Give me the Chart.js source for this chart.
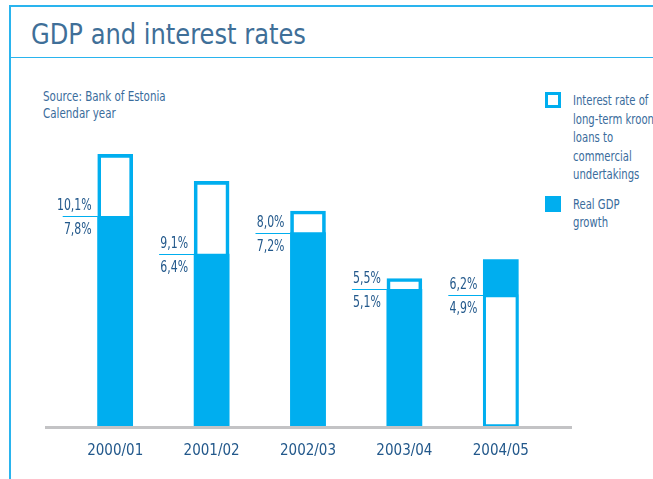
<!DOCTYPE html>
<html>
<head>
<meta charset="utf-8">
<script src="https://cdn.jsdelivr.net/npm/chart.js@4"></script>
<style>
  html, body { margin: 0; padding: 0; background: #fff; }
  #wrap { position: relative; width: 653px; height: 479px; overflow: hidden; }
  #frame { position: absolute; left: 9px; top: 5px; width: 700px; height: 500px;
           border-left: 2px solid #2ab4ee; border-top: 2px solid #2ab4ee; }
  #rule { position: absolute; left: 9px; top: 57px; width: 700px; height: 0;
          border-top: 1px solid #2ab4ee; }
  #title { position: absolute; left: 31px; top: 18px; margin: 0; font-weight: normal;
           font: 28px "DejaVu Sans Condensed", "DejaVu Sans", sans-serif;
           color: #3f6f98; white-space: nowrap; transform: scaleX(0.96); transform-origin: left top; }
  #source { position: absolute; left: 43px; top: 88px;
            font: 14px/17px "DejaVu Sans Condensed", sans-serif;
            color: #3a6c9c; white-space: nowrap;
            transform: scaleX(0.82); transform-origin: left top; }
  #legend { position: absolute; left: 545px; top: 91px; width: 200px;
            font: 14px/18.5px "DejaVu Sans Condensed", sans-serif;
            color: #3a6c9c; white-space: nowrap; }
  .item { position: relative; padding-left: 28px; margin-bottom: 11px; }
  .txt { display: inline-block; transform: scaleX(0.8); transform-origin: left top; }
  .box { position: absolute; left: 0; top: 1px; width: 16px; height: 16px; box-sizing: border-box; }
  canvas { position: absolute; left: 0; top: 0; }
</style>
</head>
<body>
<div id="wrap">
  <div id="frame"></div>
  <div id="rule"></div>
  <h1 id="title">GDP and interest rates</h1>
  <div id="source">Source: Bank of Estonia<br>Calendar year</div>
  <div id="legend"></div>
  <canvas id="chart" width="653" height="479"></canvas>
</div>
<script>
const years = ['2000/01', '2001/02', '2002/03', '2003/04', '2004/05'];
const interestRate = [10.1, 9.1, 8.0, 5.5, 4.9];
const gdpGrowth = [7.8, 6.4, 7.2, 5.1, 6.2];

const legendLines = [
  ['Interest rate of', 'long-term kroon', 'loans to', 'commercial', 'undertakings'],
  ['Real GDP', 'growth']
];

const cyan = '#00aeef';
const labelColor = '#22588b';

function pct(v) {
  return v.toFixed(1).replace('.', ',') + '%';
}

// narrow text: squeeze horizontally around the right edge
function narrowText(ctx, text, x, y) {
  ctx.save();
  ctx.translate(x, y);
  ctx.scale(0.76, 1);
  ctx.fillText(text, 0, 0);
  ctx.restore();
}

// value labels left of each bar, split by a short rule at the inner edge
const valueLabels = {
  id: 'valueLabels',
  afterDatasetsDraw(chart) {
    const ctx = chart.ctx;
    const y = chart.scales.y;
    const bars = chart.getDatasetMeta(0).data;
    ctx.save();
    years.forEach((yr, i) => {
      const lo = Math.min(interestRate[i], gdpGrowth[i]);
      const hi = Math.max(interestRate[i], gdpGrowth[i]);
      const left = bars[i].x - bars[i].width / 2;
      const ly = Math.round(y.getPixelForValue(lo)) + 0.5;
      ctx.strokeStyle = cyan;
      ctx.lineWidth = 1;
      ctx.beginPath();
      ctx.moveTo(left - 35, ly);
      ctx.lineTo(left, ly);
      ctx.stroke();
      ctx.fillStyle = labelColor;
      ctx.font = '16px "DejaVu Sans Condensed", sans-serif';
      ctx.textAlign = 'right';
      ctx.textBaseline = 'middle';
      narrowText(ctx, pct(hi), left - 6, ly - 11);
      narrowText(ctx, pct(lo), left - 6, ly + 13);
    });
    // gray base line
    const area = chart.chartArea;
    const by = y.getPixelForValue(0);
    ctx.fillStyle = '#c3c3c5';
    ctx.fillRect(area.left - 22, by - 1, area.right - area.left + 45, 3);
    ctx.restore();
  }
};

new Chart(document.getElementById('chart'), {
  type: 'bar',
  data: {
    labels: years,
    datasets: [
      {
        label: 'Real GDP growth',
        data: gdpGrowth,
        backgroundColor: cyan,
        borderWidth: 0,
        barThickness: 35,
        grouped: false,
        order: 2
      },
      {
        label: 'Interest rate of long-term kroon loans to commercial undertakings',
        data: interestRate,
        backgroundColor: c => interestRate[c.dataIndex] < gdpGrowth[c.dataIndex] ? '#ffffff' : 'rgba(255,255,255,0)',
        borderColor: cyan,
        borderWidth: 3,
        borderSkipped: false,
        barThickness: 35,
        grouped: false,
        order: 1
      }
    ]
  },
  options: {
    responsive: false,
    animation: false,
    events: [],
    layout: { padding: { left: 67, right: 104, top: 103, bottom: 0 } },
    plugins: { legend: { display: false }, tooltip: { enabled: false } },
    scales: {
      y: { display: false, min: 0, max: 12 },
      x: {
        afterFit: s => { s.height = 52; },
        grid: { display: false, drawTicks: false },
        border: { display: false },
        ticks: {
          padding: 15,
          color: labelColor,
          font: { family: '"DejaVu Sans Condensed", sans-serif', size: 15 }
        }
      }
    }
  },
  plugins: [valueLabels]
});

// legend built from the same series
const legend = document.getElementById('legend');
[
  { lines: legendLines[0], style: 'border:3px solid ' + cyan + ';background:#fff' },
  { lines: legendLines[1], style: 'background:' + cyan }
].forEach(it => {
  const d = document.createElement('div');
  d.className = 'item';
  d.innerHTML = '<span class="box" style="' + it.style + '"></span><span class="txt">' + it.lines.join('<br>') + '</span>';
  legend.appendChild(d);
});
</script>
</body>
</html>
